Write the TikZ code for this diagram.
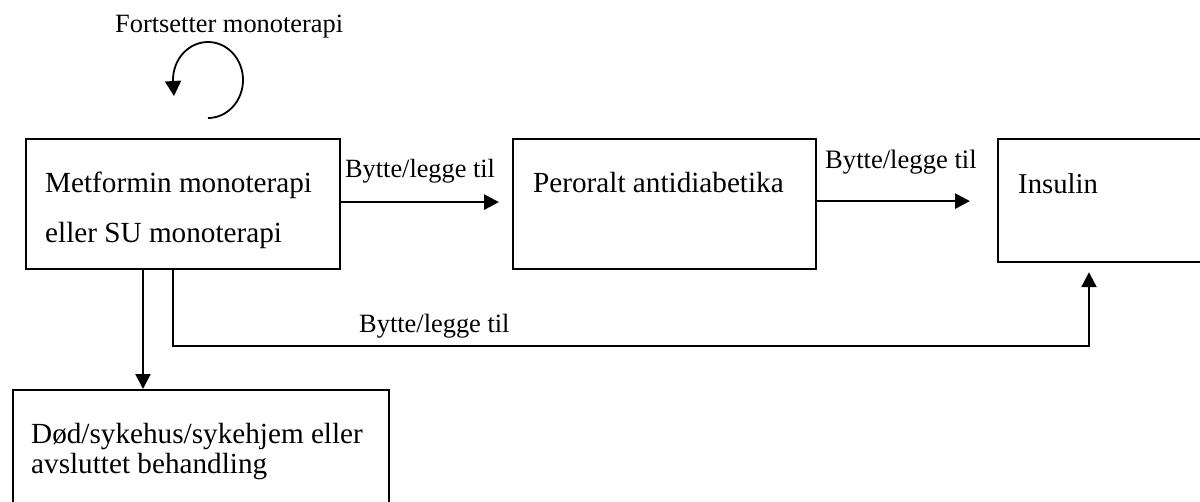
\documentclass[tikz,border=0pt]{standalone}
\usepackage{fontspec}
\setmainfont{Liberation Serif}
\usetikzlibrary{arrows.meta,calc}
\begin{document}
\begin{tikzpicture}[x=1pt,y=-1pt,
  boxnode/.style={draw,line width=2.2pt,rectangle,anchor=north west,inner sep=0pt},
  lbl/.style={anchor=base west,inner sep=0pt},
  boxtext/.style={lbl,font=\fontsize{29.2}{30}\selectfont},
  arrowtext/.style={lbl,font=\fontsize{26.4}{30}\selectfont},
  conn/.style={line width=2.6pt,-{Triangle[length=15pt,width=15pt]}},
  thinconn/.style={line width=2.2pt,-{Triangle[length=15pt,width=15pt]}}]
\useasboundingbox (0,0) rectangle (1200,501);
% boxes
\node[boxnode,minimum width=314pt,minimum height=130pt] (m) at (25,138) {};
\node[boxnode,minimum width=303pt,minimum height=130pt] (p) at (512,138) {};
\node[boxnode,minimum width=300pt,minimum height=123pt] (i) at (997,138) {};
\node[boxnode,minimum width=376pt,minimum height=160pt] (d) at (12,389) {};
% texts
\node[boxtext] (t1) at (45,192) {Metformin monoterapi};
\node[boxtext] (t2) at (45,242) {eller SU monoterapi};
\node[boxtext] (t3) at (533,192) {Peroralt antidiabetika};
\node[boxtext,font=\fontsize{28.7}{30}\selectfont] (t4) at (1018,193) {Insulin};
\node[boxtext] (t5) at (31,443) {Død/sykehus/sykehjem eller};
\node[boxtext] (t6) at (31,473) {avsluttet behandling};
\node[arrowtext,font=\fontsize{26.3}{30}\selectfont] (l1) at (345,177) {Bytte/legge til};
\node[arrowtext,font=\fontsize{26.6}{30}\selectfont] (l2) at (825,168) {Bytte/legge til};
\node[arrowtext] (l3) at (359,332) {Bytte/legge til};
\node[arrowtext] (l4) at (115,32) {Fortsetter monoterapi};
% connectors
\coordinate (a1) at ([yshift=2pt]m.east);
\draw[conn,shorten >=13pt] (a1) -- (a1 -| p.west);
\coordinate (a2) at ([yshift=3pt]p.east);
\draw[conn,shorten >=27pt] (a2) -- (a2 -| i.west);
\coordinate (b1) at ([xshift=118pt]m.south west);
\draw[thinconn] (b1) -- (b1 |- d.north);
\coordinate (c1) at ([xshift=148pt]m.south west);
\coordinate (c2) at ([xshift=92pt]i.south west);
\draw[thinconn,shorten >=9pt] (c1) -- ++(0,76) -| (c2);
% self loop
\coordinate (loopstart) at (208,118);
\coordinate (looptip) at (174,96);
\draw[line width=1.8pt,-{Triangle[length=15pt,width=16pt]}] (loopstart) arc[start angle=90,end angle=-180,x radius=35,y radius=38] -- (looptip);
\end{tikzpicture}
\end{document}
